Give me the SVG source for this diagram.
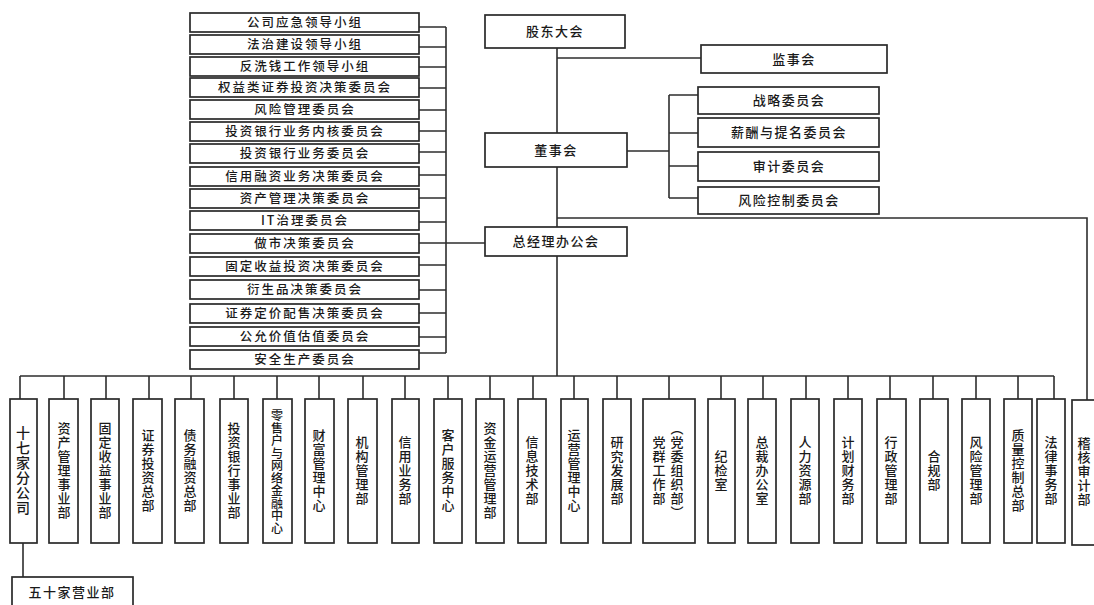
<svg xmlns="http://www.w3.org/2000/svg" width="1094" height="605" viewBox="0 0 1094 605">
<style>
.bx{fill:#fff;stroke:#2a2a2a;stroke-width:1.7}
.ln{fill:none;stroke:#2e2e2e;stroke-width:1.6}
text{font-family:"Noto Sans CJK SC","Noto Sans",sans-serif;fill:#1a1a1a;font-weight:500}
.ct{font-size:12.5px;letter-spacing:2px;text-anchor:middle}
.tt{font-size:13px;letter-spacing:1.5px;text-anchor:middle}
.vt{font-size:13px;letter-spacing:1px;text-anchor:middle;writing-mode:vertical-rl}
</style>
<rect width="1094" height="605" fill="#fff"/>
<g id="connectors">
<path class="ln" d="M557 48V227M557 58H701M627 151H669M669 95V198M669 95H698M669 133H698M669 166H698M669 198H698M557 218H1087V400M557 256V376"/>
<path class="ln" d="M446 27V353M419 27H446M419 47H446M419 67H446M419 88H446M419 110H446M419 131H446M419 152H446M419 175H446M419 198H446M419 222H446M419 243H485M419 265H446M419 290H446M419 313H446M419 337H446M419 353H446"/>
<path class="ln" d="M20 376H1054M20 376V399M64 376V399M106 376V399M149 376V399M191 376V399M234 376V399M277 376V399M319 376V399M363 376V399M405 376V399M448 376V399M490 376V399M533 376V399M574 376V399M617 376V399M669 376V399M721 376V399M763 376V399M806 376V399M848 376V399M890 376V399M933 376V399M976 376V399M1018 376V399M1054 376V399M23 543V577"/>
</g>
<g id="n-gddh"><rect class="bx" x="485" y="15" width="140" height="33"/><text class="tt" x="555" y="36">股东大会</text></g>
<g id="n-jsh"><rect class="bx" x="701" y="45" width="186" height="28"/><text class="tt" x="794" y="64">监事会</text></g>
<g id="n-dsh"><rect class="bx" x="485" y="133" width="142" height="34"/><text class="tt" x="556" y="155">董事会</text></g>
<g id="n-zlwyh"><rect class="bx" x="698" y="87" width="181" height="27"/><text class="tt" x="789" y="105">战略委员会</text></g>
<g id="n-xctm"><rect class="bx" x="698" y="118" width="181" height="29"/><text class="tt" x="789" y="137">薪酬与提名委员会</text></g>
<g id="n-sjwyh"><rect class="bx" x="698" y="152" width="181" height="29"/><text class="tt" x="789" y="171">审计委员会</text></g>
<g id="n-fxkz"><rect class="bx" x="698" y="187" width="181" height="27"/><text class="tt" x="789" y="205">风险控制委员会</text></g>
<g id="n-zjlbgh"><rect class="bx" x="485" y="227" width="142" height="29"/><text class="tt" x="556" y="246">总经理办公会</text></g>
<g id="committees">
<g id="c1"><rect class="bx" x="190" y="13" width="229" height="19"/><text class="ct" x="305" y="27">公司应急领导小组</text></g>
<g id="c2"><rect class="bx" x="190" y="35" width="229" height="19"/><text class="ct" x="305" y="49">法治建设领导小组</text></g>
<g id="c3"><rect class="bx" x="190" y="57" width="229" height="19"/><text class="ct" x="305" y="71">反洗钱工作领导小组</text></g>
<g id="c4"><rect class="bx" x="190" y="78" width="229" height="19"/><text class="ct" x="305" y="92">权益类证券投资决策委员会</text></g>
<g id="c5"><rect class="bx" x="190" y="100" width="229" height="19"/><text class="ct" x="305" y="114">风险管理委员会</text></g>
<g id="c6"><rect class="bx" x="190" y="122" width="229" height="19"/><text class="ct" x="305" y="136">投资银行业务内核委员会</text></g>
<g id="c7"><rect class="bx" x="190" y="144" width="229" height="19"/><text class="ct" x="305" y="158">投资银行业务委员会</text></g>
<g id="c8"><rect class="bx" x="190" y="167" width="229" height="19"/><text class="ct" x="305" y="181">信用融资业务决策委员会</text></g>
<g id="c9"><rect class="bx" x="190" y="189" width="229" height="19"/><text class="ct" x="305" y="203">资产管理决策委员会</text></g>
<g id="c10"><rect class="bx" x="190" y="211" width="229" height="19"/><text class="ct" x="305" y="225">IT治理委员会</text></g>
<g id="c11"><rect class="bx" x="190" y="234" width="229" height="19"/><text class="ct" x="305" y="248">做市决策委员会</text></g>
<g id="c12"><rect class="bx" x="190" y="257" width="229" height="19"/><text class="ct" x="305" y="271">固定收益投资决策委员会</text></g>
<g id="c13"><rect class="bx" x="190" y="280" width="229" height="19"/><text class="ct" x="305" y="294">衍生品决策委员会</text></g>
<g id="c14"><rect class="bx" x="190" y="304" width="229" height="19"/><text class="ct" x="305" y="318">证券定价配售决策委员会</text></g>
<g id="c15"><rect class="bx" x="190" y="327" width="229" height="19"/><text class="ct" x="305" y="341">公允价值估值委员会</text></g>
<g id="c16"><rect class="bx" x="190" y="350" width="229" height="19"/><text class="ct" x="305" y="364">安全生产委员会</text></g>
</g>
<g id="departments">
<g id="d1"><rect class="bx" x="10" y="399" width="27" height="144"/><text class="vt" x="23" y="471" style="font-size:14px">十七家分公司</text></g>
<g id="d2"><rect class="bx" x="49" y="399" width="29" height="144"/><text class="vt" x="64" y="471">资产管理事业部</text></g>
<g id="d3"><rect class="bx" x="91" y="399" width="28" height="144"/><text class="vt" x="105" y="471">固定收益事业部</text></g>
<g id="d4"><rect class="bx" x="133" y="399" width="29" height="144"/><text class="vt" x="148" y="471">证券投资总部</text></g>
<g id="d5"><rect class="bx" x="175" y="399" width="29" height="144"/><text class="vt" x="190" y="471">债务融资总部</text></g>
<g id="d6"><rect class="bx" x="220" y="399" width="28" height="144"/><text class="vt" x="234" y="471">投资银行事业部</text></g>
<g id="d7"><rect class="bx" x="263" y="399" width="29" height="144"/><text class="vt" x="277" y="472" style="font-size:12px;letter-spacing:0.5px">零售户与网络金融中心</text></g>
<g id="d8"><rect class="bx" x="305" y="399" width="29" height="144"/><text class="vt" x="319" y="471">财富管理中心</text></g>
<g id="d9"><rect class="bx" x="348" y="399" width="29" height="144"/><text class="vt" x="362" y="471">机构管理部</text></g>
<g id="d10"><rect class="bx" x="392" y="399" width="27" height="144"/><text class="vt" x="405" y="471">信用业务部</text></g>
<g id="d11"><rect class="bx" x="434" y="399" width="28" height="144"/><text class="vt" x="448" y="471">客户服务中心</text></g>
<g id="d12"><rect class="bx" x="476" y="399" width="28" height="144"/><text class="vt" x="490" y="471">资金运营管理部</text></g>
<g id="d13"><rect class="bx" x="518" y="399" width="28" height="144"/><text class="vt" x="532" y="471">信息技术部</text></g>
<g id="d14"><rect class="bx" x="561" y="399" width="27" height="144"/><text class="vt" x="574" y="471">运营管理中心</text></g>
<g id="d15"><rect class="bx" x="603" y="399" width="28" height="144"/><text class="vt" x="617" y="471">研究发展部</text></g>
<g id="d16"><rect class="bx" x="643" y="399" width="52" height="144"/><text class="vt" x="677" y="471">（党委组织部）</text><text class="vt" x="659" y="471">党群工作部</text></g>
<g id="d17"><rect class="bx" x="708" y="399" width="27" height="144"/><text class="vt" x="721" y="471">纪检室</text></g>
<g id="d18"><rect class="bx" x="748" y="399" width="28" height="144"/><text class="vt" x="762" y="471">总裁办公室</text></g>
<g id="d19"><rect class="bx" x="791" y="399" width="28" height="144"/><text class="vt" x="805" y="471">人力资源部</text></g>
<g id="d20"><rect class="bx" x="834" y="399" width="28" height="144"/><text class="vt" x="848" y="471">计划财务部</text></g>
<g id="d21"><rect class="bx" x="877" y="399" width="29" height="144"/><text class="vt" x="891" y="471">行政管理部</text></g>
<g id="d22"><rect class="bx" x="920" y="399" width="28" height="144"/><text class="vt" x="934" y="471">合规部</text></g>
<g id="d23"><rect class="bx" x="962" y="399" width="28" height="144"/><text class="vt" x="976" y="471">风险管理部</text></g>
<g id="d24"><rect class="bx" x="1004" y="399" width="28" height="144"/><text class="vt" x="1018" y="471">质量控制总部</text></g>
<g id="d25"><rect class="bx" x="1037" y="399" width="28" height="144"/><text class="vt" x="1051" y="471">法律事务部</text></g>
<g id="d26"><rect class="bx" x="1072" y="400" width="30" height="145"/><text class="vt" x="1084" y="472">稽核审计部</text></g>
<g id="d27"><rect class="bx" x="12" y="577" width="121" height="32"/><text class="tt" x="72" y="597">五十家营业部</text></g>
</g>
</svg>
